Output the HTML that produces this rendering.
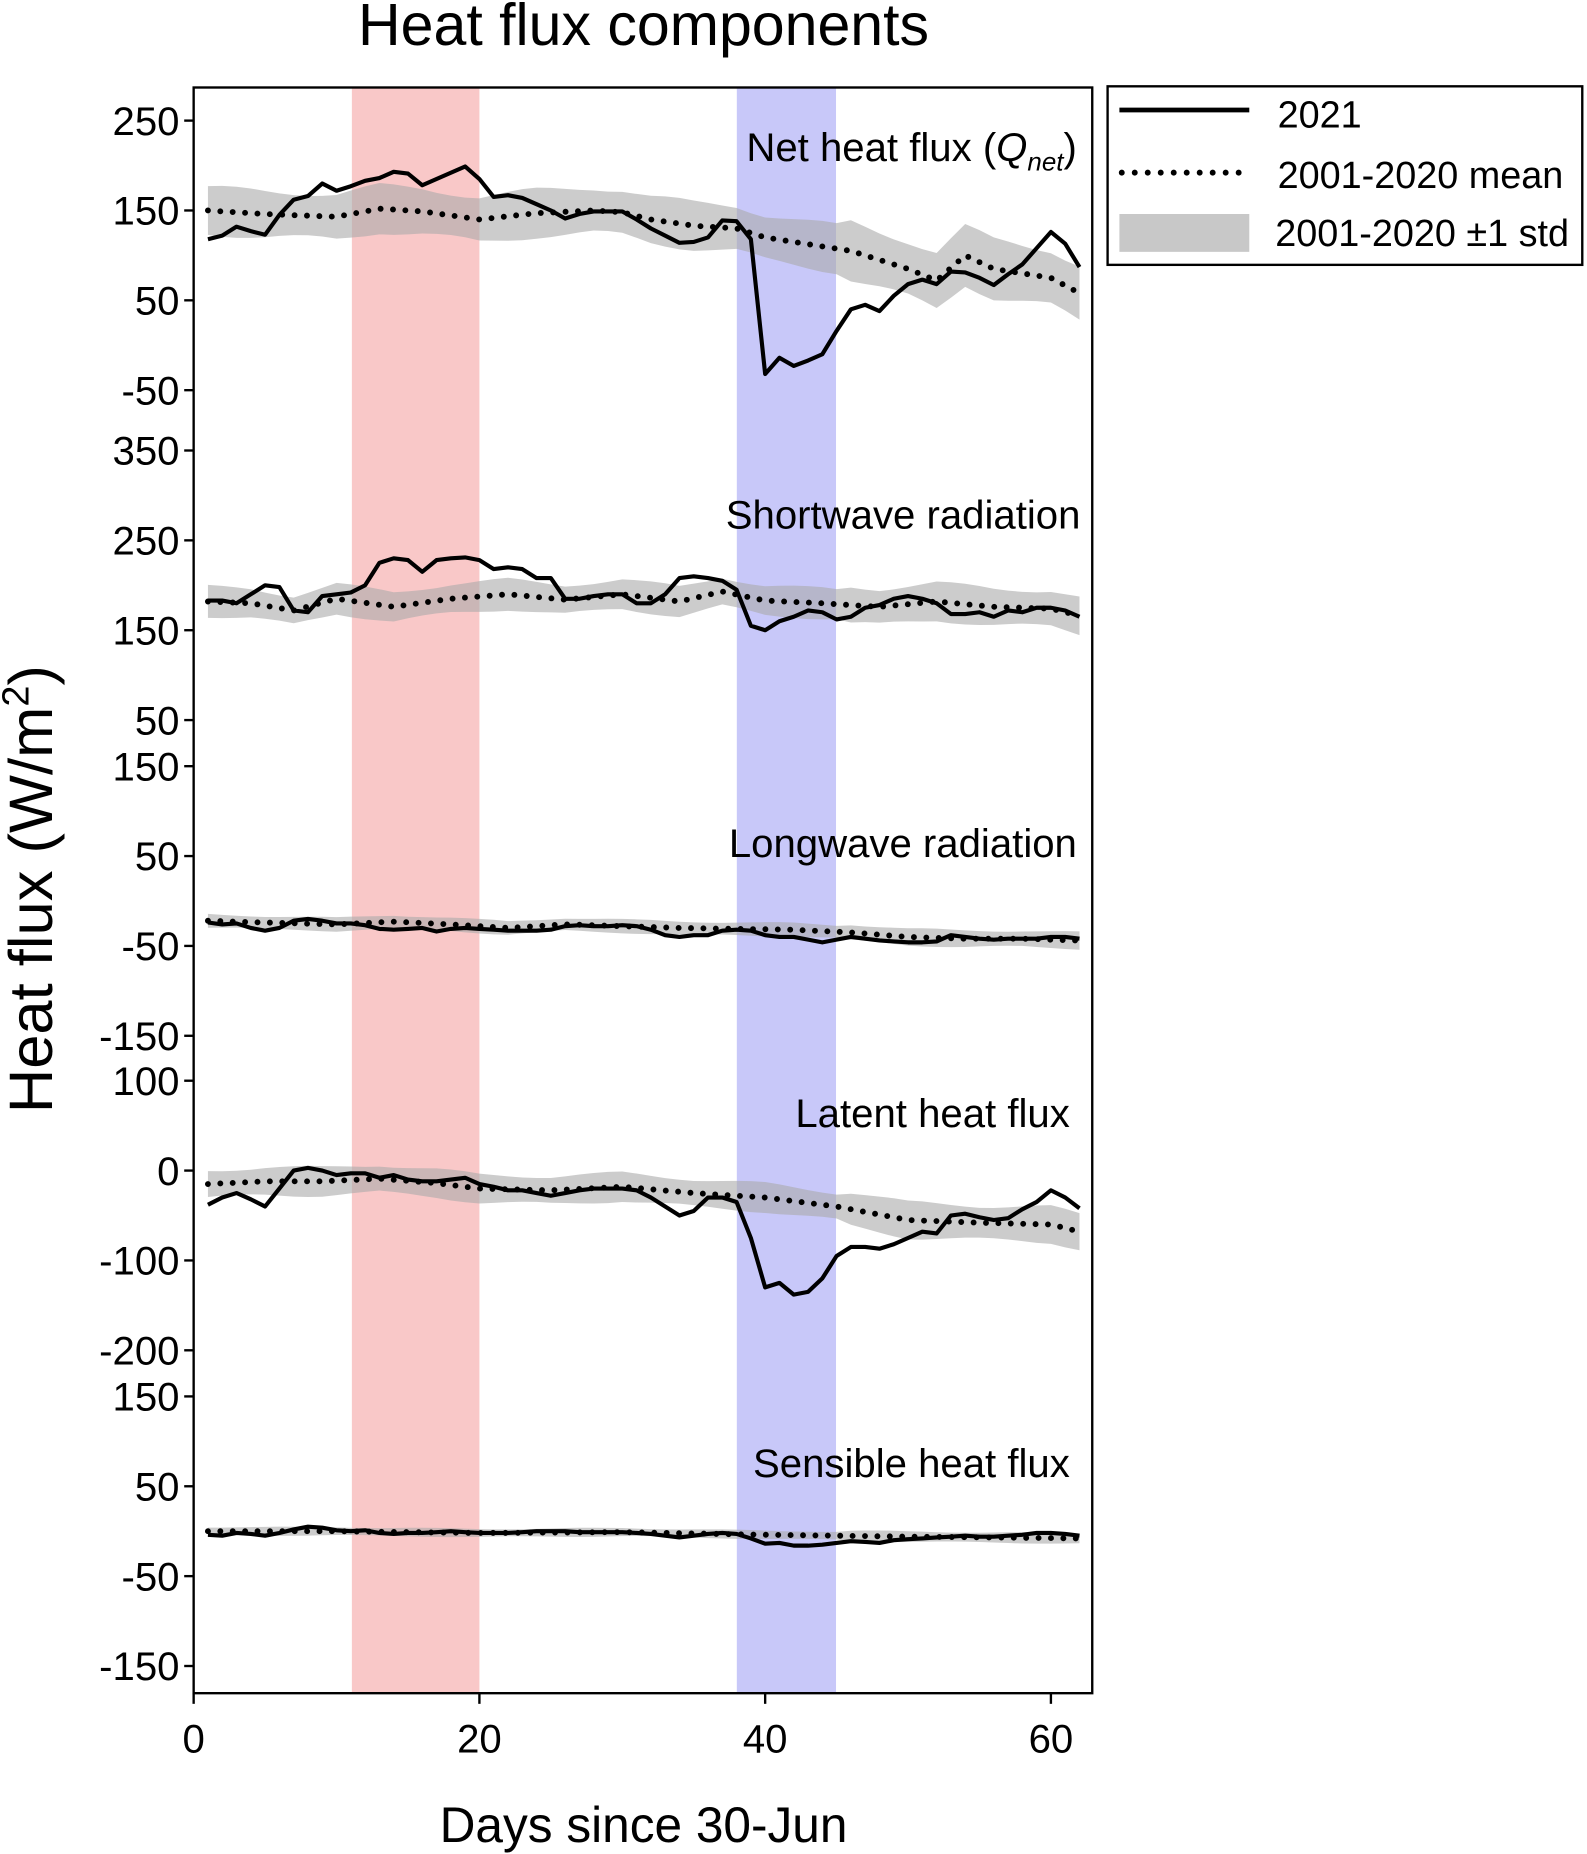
<!DOCTYPE html>
<html><head><meta charset="utf-8"><style>
html,body{margin:0;padding:0;background:#fff}
svg{display:block}
text{font-family:"Liberation Sans","DejaVu Sans",sans-serif;fill:#000}
</style></head><body>
<svg id="s" width="1587" height="1854" viewBox="0 0 1344 1568" preserveAspectRatio="none" xmlns="http://www.w3.org/2000/svg">
<rect x="298" y="74" width="108" height="1358" fill="#f9c8c8"/>
<rect x="624" y="74" width="84" height="1358" fill="#c8c8f9"/>
<g id="g"></g>
<rect x="164" y="74" width="761" height="1358" fill="none" stroke="#000" stroke-width="2"/>
<text x="545" y="38" font-size="50" text-anchor="middle">Heat flux components</text>
<text transform="translate(44,752) rotate(-90)" font-size="52" text-anchor="middle">Heat flux (W/m<tspan font-size="32" dy="-20">2</tspan><tspan dy="20">)</tspan></text>
<text x="545" y="1558" font-size="42" text-anchor="middle">Days since 30-Jun</text>
<text x="912" y="136" font-size="34" text-anchor="end">Net heat flux (<tspan font-style="italic">Q</tspan><tspan font-style="italic" font-size="22" dy="8">net</tspan><tspan dy="-8">)</tspan></text>
<text x="915" y="447" font-size="34" text-anchor="end">Shortwave radiation</text>
<text x="912" y="725" font-size="34" text-anchor="end">Longwave radiation</text>
<text x="906" y="953" font-size="34" text-anchor="end">Latent heat flux</text>
<text x="906" y="1249" font-size="34" text-anchor="end">Sensible heat flux</text>
<rect x="938" y="73" width="402" height="151" fill="#fff" stroke="#000" stroke-width="2"/>
<line x1="948" y1="93" x2="1058" y2="93" stroke="#000" stroke-width="4"/>
<line x1="950" y1="146" x2="1058" y2="146" stroke="#000" stroke-width="5" stroke-dasharray="0 11" stroke-linecap="round"/>
<rect x="948" y="181" width="110" height="32" fill="#c8c8c8"/>
<text x="1082" y="108" font-size="32">2021</text>
<text x="1082" y="159" font-size="32">2001-2020 mean</text>
<text x="1080" y="208" font-size="32">2001-2020 ±1 std</text>
</svg>
<script>
const X=d=>164+d*12.1;
const panels=[
 {y0:102,v0:250,ticks:[250,150,50,-50],
  s:[118,122,132,127,123,145,162,166,180,172,177,183,186,193,191,178,185,192,199,185,165,167,164,157,150,141,146,149,149,149,140,130,122,114,115,120,139,138,118,-32,-14,-23,-17,-10,16,40,45,38,55,68,73,68,82,81,75,67,79,90,108,126,113,87],
  m:[[1,150],[5,146],[10,143],[13,152],[16,149],[20,140],[24,147],[28,150],[30,148],[32,140],[35,133],[38,130],[40,120],[44,110],[46,105],[50,85],[52,72],[54,100],[56,85],[60,75],[62,58]],sd:28},
 {y0:381,v0:350,ticks:[350,250,150,50],
  s:[183,183,180,190,200,198,172,170,188,190,192,200,225,230,228,215,228,230,231,228,218,220,218,208,208,185,185,188,190,190,180,180,190,208,210,208,205,195,155,150,160,165,172,170,162,165,175,178,185,188,185,180,168,168,170,165,172,170,175,175,172,165],
  m:[[1,182],[4,180],[7,172],[10,185],[14,176],[18,185],[22,190],[26,184],[30,190],[34,182],[37,193],[40,183],[44,180],[48,176],[52,182],[56,176],[60,174],[62,166]],sd:18},
 {y0:648,v0:150,ticks:[150,50,-50,-150],
  s:[-24,-26,-25,-30,-33,-30,-22,-20,-22,-25,-25,-27,-31,-32,-31,-30,-34,-31,-30,-31,-32,-33,-33,-33,-32,-28,-27,-28,-28,-27,-28,-32,-38,-40,-38,-38,-33,-32,-33,-38,-40,-40,-43,-46,-43,-40,-42,-44,-45,-46,-46,-45,-38,-40,-42,-43,-42,-42,-42,-40,-40,-42],
  m:[[1,-22],[5,-24],[10,-26],[14,-23],[18,-26],[22,-30],[26,-26],[30,-28],[34,-30],[38,-31],[42,-32],[46,-35],[50,-40],[54,-42],[58,-42],[62,-44]],sd:8},
 {y0:914,v0:100,ticks:[100,0,-100,-200],
  s:[-38,-30,-25,-32,-40,-20,0,3,0,-5,-3,-3,-8,-5,-10,-12,-12,-10,-8,-15,-18,-22,-22,-25,-28,-25,-22,-20,-20,-20,-22,-30,-40,-50,-45,-30,-30,-35,-75,-130,-125,-138,-135,-120,-95,-85,-85,-87,-82,-75,-68,-70,-50,-48,-52,-55,-53,-43,-35,-22,-30,-42],
  m:[[1,-15],[5,-12],[9,-12],[13,-9],[17,-14],[20,-20],[25,-22],[30,-18],[35,-25],[40,-30],[45,-40],[50,-55],[55,-58],[60,-60],[62,-68]],sd:17},
 {y0:1181,v0:150,ticks:[150,50,-50,-150],
  s:[-4,-5,-2,-3,-5,-2,2,5,4,1,0,1,-2,-3,-2,-2,-1,0,-1,-2,-2,-2,-1,0,0,0,-1,-1,-1,-1,-2,-3,-5,-7,-5,-3,-2,-3,-8,-14,-13,-16,-16,-15,-13,-11,-12,-13,-10,-9,-8,-7,-6,-5,-6,-6,-5,-4,-2,-2,-3,-5],
  m:[[1,0],[10,0],[20,-2],[30,-1],[40,-4],[50,-6],[62,-8]],sd:5}
];
function interp(m,d){for(let i=0;i<m.length-1;i++){if(d>=m[i][0]&&d<=m[i+1][0]){const t=(d-m[i][0])/(m[i+1][0]-m[i][0]);return m[i][1]+t*(m[i+1][1]-m[i][1]);}}return m[m.length-1][1];}
let h='';
panels.forEach((p,k)=>{
 const Y=v=>p.y0+(p.v0-v)*0.76;
 let up=[],dn=[],mp=[];
 for(let d=1;d<=62;d++){const mv=interp(p.m,d);const w=p.sd*(0.9+0.12*Math.sin(d*0.6+k))*(d>45?1.25:1);up.push(X(d).toFixed(1)+','+Y(mv+w).toFixed(1));dn.unshift(X(d).toFixed(1)+','+Y(mv-w).toFixed(1));mp.push(X(d).toFixed(1)+','+Y(mv).toFixed(1));}
 h+=`<polygon points="${up.concat(dn).join(' ')}" fill="#aaaaaa" fill-opacity="0.6"/>`;
 h+=`<polyline points="${mp.join(' ')}" fill="none" stroke="#000" stroke-width="5" stroke-dasharray="0 10.5" stroke-linecap="round"/>`;
 h+=`<polyline points="${p.s.map((v,i)=>X(i+1).toFixed(1)+','+Y(v).toFixed(1)).join(' ')}" fill="none" stroke="#000" stroke-width="3.5" stroke-linejoin="round"/>`;
 p.ticks.forEach(t=>{const y=Y(t);h+=`<line x1="156" y1="${y}" x2="164" y2="${y}" stroke="#000" stroke-width="2"/><text x="152" y="${y+12}" font-size="34" text-anchor="end">${t}</text>`;});
});
[0,20,40,60].forEach(d=>{h+=`<line x1="${X(d)}" y1="1432" x2="${X(d)}" y2="1441" stroke="#000" stroke-width="2"/><text x="${X(d)}" y="1482" font-size="34" text-anchor="middle">${d}</text>`;});
document.getElementById('g').innerHTML=h;
</script>
</body></html>
